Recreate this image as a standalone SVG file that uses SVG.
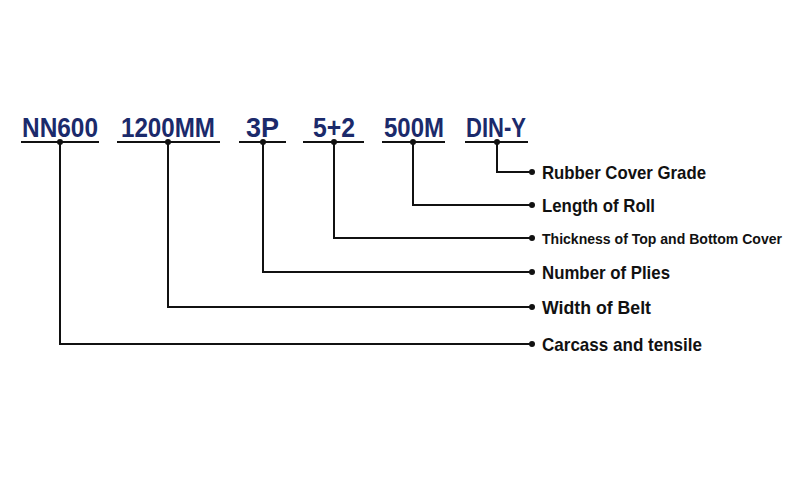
<svg xmlns="http://www.w3.org/2000/svg" width="800" height="500" viewBox="0 0 800 500">
<style>
.code{font-family:"Liberation Sans",Arial,sans-serif;font-weight:bold;font-size:28px;fill:#1b2a6b}
.lbl{font-family:"Liberation Sans",Arial,sans-serif;font-weight:bold;font-size:19px;fill:#111}
.ln{stroke:#111;stroke-width:2;fill:none}
.dot{fill:#111}
</style>
<rect width="800" height="500" fill="#fff"/>
<g id="code-nn600">
<text class="code" x="22" y="137" textLength="76" lengthAdjust="spacingAndGlyphs">NN600</text>
<line class="ln" x1="21" y1="142" x2="99" y2="142"/><circle class="dot" cx="60" cy="142" r="3"/>
</g>
<g id="code-1200mm">
<text class="code" x="121" y="137" textLength="94" lengthAdjust="spacingAndGlyphs">1200MM</text>
<line class="ln" x1="117" y1="142" x2="220" y2="142"/><circle class="dot" cx="168" cy="142" r="3"/>
</g>
<g id="code-3p">
<text class="code" x="246" y="137" textLength="33" lengthAdjust="spacingAndGlyphs">3P</text>
<line class="ln" x1="239" y1="142" x2="286" y2="142"/><circle class="dot" cx="263" cy="142" r="3"/>
</g>
<g id="code-5plus2">
<text class="code" x="313" y="137" textLength="42" lengthAdjust="spacingAndGlyphs">5+2</text>
<line class="ln" x1="303" y1="142" x2="364" y2="142"/><circle class="dot" cx="334" cy="142" r="3"/>
</g>
<g id="code-500m">
<text class="code" x="384" y="137" textLength="60" lengthAdjust="spacingAndGlyphs">500M</text>
<line class="ln" x1="382" y1="142" x2="445" y2="142"/><circle class="dot" cx="413" cy="142" r="3"/>
</g>
<g id="code-diny">
<text class="code" x="466" y="137" textLength="60" lengthAdjust="spacingAndGlyphs">DIN-Y</text>
<line class="ln" x1="465" y1="142" x2="528" y2="142"/><circle class="dot" cx="497" cy="142" r="3"/>
</g>
<g id="connectors">
<polyline class="ln" points="497,142 497,172 532,172"/>
<polyline class="ln" points="413,142 413,205 532,205"/>
<polyline class="ln" points="334,142 334,238 532,238"/>
<polyline class="ln" points="263,142 263,272 532,272"/>
<polyline class="ln" points="168,142 168,307 532,307"/>
<polyline class="ln" points="60,142 60,344 532,344"/>
<circle class="dot" cx="532" cy="172" r="3"/>
<circle class="dot" cx="532" cy="205" r="3"/>
<circle class="dot" cx="532" cy="238" r="3"/>
<circle class="dot" cx="532" cy="272" r="3"/>
<circle class="dot" cx="532" cy="307" r="3"/>
<circle class="dot" cx="532" cy="344" r="3"/>
</g>
<g id="label-rubber"><text class="lbl" x="542" y="179" textLength="164" lengthAdjust="spacingAndGlyphs">Rubber Cover Grade</text></g>
<g id="label-length"><text class="lbl" x="542" y="212" textLength="113" lengthAdjust="spacingAndGlyphs">Length of Roll</text></g>
<g id="label-thickness"><text class="lbl" x="542" y="244" style="font-size:14.5px" textLength="240" lengthAdjust="spacingAndGlyphs">Thickness of Top and Bottom Cover</text></g>
<g id="label-plies"><text class="lbl" x="542" y="279" textLength="128" lengthAdjust="spacingAndGlyphs">Number of Plies</text></g>
<g id="label-width"><text class="lbl" x="542" y="314" textLength="109" lengthAdjust="spacingAndGlyphs">Width of Belt</text></g>
<g id="label-carcass"><text class="lbl" x="542" y="351" textLength="160" lengthAdjust="spacingAndGlyphs">Carcass and tensile</text></g>
</svg>
